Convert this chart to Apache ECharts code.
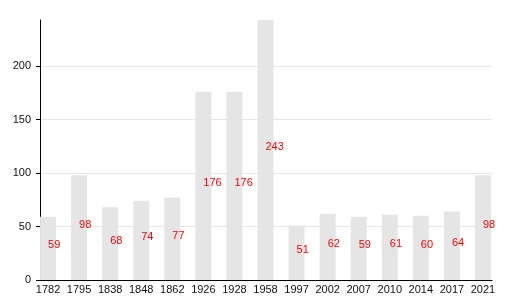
<!DOCTYPE html>
<html><head><meta charset="utf-8">
<script src="https://cdn.jsdelivr.net/npm/echarts@6/dist/echarts.min.js"></script>
<style>html,body{margin:0;padding:0;background:#fff}#c{width:530px;height:300px}</style>
</head><body><div id="c"></div>
<script>
const categories = ['1782','1795','1838','1848','1862','1926','1928','1958','1997','2002','2007','2010','2014','2017','2021'];
const values = [59,98,68,74,77,176,176,243,51,62,59,61,60,64,98];
const yTicks = [0,50,100,150,200];

const chart = echarts.init(document.getElementById('c'), null, {renderer:'canvas'});
const font = 'Liberation Sans, Arial, sans-serif';
chart.setOption({
  animation: false,
  backgroundColor: '#fff',
  grid: [
    {left: 40, right: 38, top: 20, bottom: 20},
    {left: 32.5, right: 31.5, top: 20, bottom: 20}
  ],
  xAxis: [
    {gridIndex: 0, type: 'value', min: 0, max: 1,
     axisLine: {show: true, onZero: false, lineStyle: {color: '#000', width: 1}},
     axisTick: {show: false}, axisLabel: {show: false}, splitLine: {show: false}},
    {gridIndex: 1, type: 'category', data: categories, boundaryGap: true,
     axisLine: {show: false}, axisTick: {show: false},
     axisLabel: {color: '#111', fontSize: 11, fontFamily: font, margin: 4, interval: 0},
     splitLine: {show: false}}
  ],
  yAxis: [
    {gridIndex: 0, type: 'value', min: 0, max: 243, interval: 50,
     axisLine: {show: true, lineStyle: {color: '#000', width: 1}},
     axisTick: {show: true, length: 4, lineStyle: {color: '#000'}, customValues: yTicks},
     axisLabel: {color: '#111', fontSize: 11, fontFamily: font, margin: 9, customValues: yTicks},
     splitLine: {show: true, lineStyle: {color: '#e6e6e6', width: 1}}},
    {gridIndex: 1, type: 'value', min: 0, max: 243, show: false, splitLine: {show: false}}
  ],
  series: [{
    type: 'bar', xAxisIndex: 1, yAxisIndex: 1,
    data: values, barWidth: 16,
    itemStyle: {color: '#e5e5e5'},
    label: {show: true, position: 'inside', align: 'left', verticalAlign: 'middle', offset: [0, -3],
            color: '#ff0000', fontSize: 11, fontFamily: font}
  }]
});
</script></body></html>
